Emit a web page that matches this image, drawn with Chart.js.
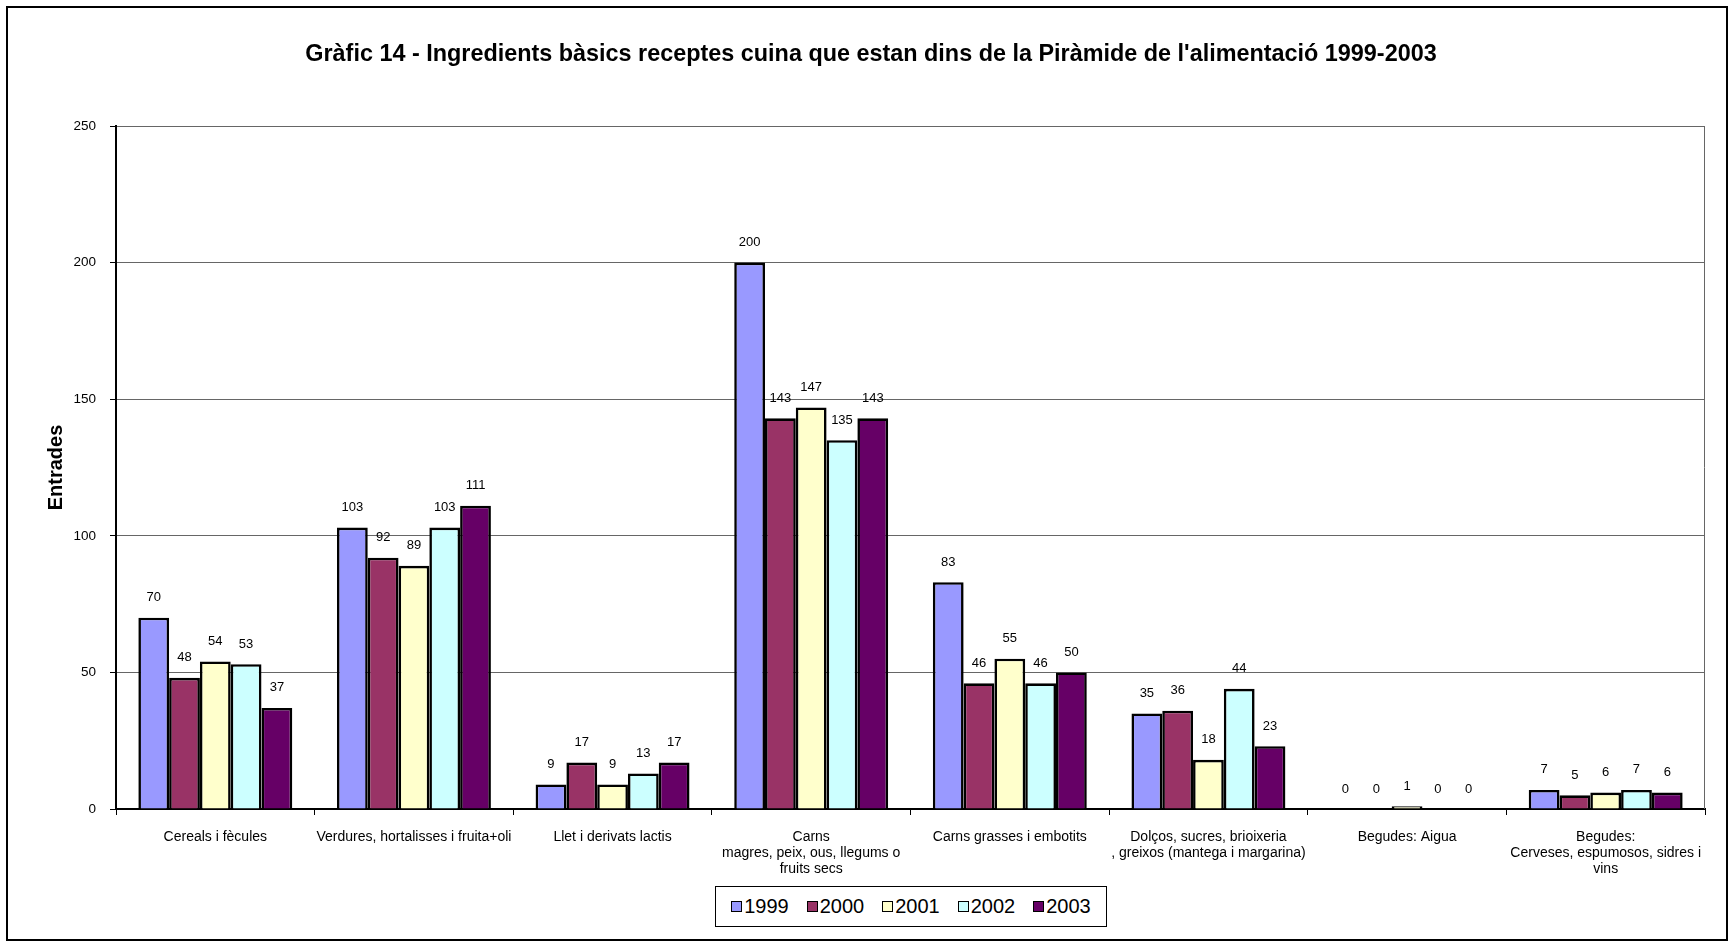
<!DOCTYPE html>
<html>
<head>
<meta charset="UTF-8">
<title>Gràfic 14</title>
<script src="https://cdn.jsdelivr.net/npm/chart.js"></script>
<style>
body{margin:0; background:#fff; font-family:"Liberation Sans", Arial, sans-serif;}
#wrap{position:absolute; left:6px; top:6px; width:1718px; height:931px; border:2px solid #000;}
#title{position:absolute; left:4px; top:31px; width:1718px; text-align:center; font-weight:bold; font-size:23.4px; line-height:28px;}
#legend{position:absolute; left:707px; top:878px; width:390px; height:39px; border:1px solid #000;
  display:flex; justify-content:center; align-items:center; gap:18px; font-size:20px; background:#fff;}
#legend span.it{display:flex; align-items:center;}
#legend span.sq{display:inline-block; width:9px; height:9px; border:1px solid #000; margin-right:2px;}
</style>
</head>
<body>
<div id="wrap">
  <canvas id="myChart"></canvas>
  <div id="title">Gràfic 14 - Ingredients bàsics receptes cuina que estan dins de la Piràmide de l'alimentació 1999-2003</div>
  <div id="legend"></div>
</div>
<script>
// dades del gràfic
var categories = [
  'Cereals i fècules',
  'Verdures, hortalisses i fruita+oli',
  'Llet i derivats lactis',
  ['Carns', 'magres, peix, ous, llegums o', 'fruits secs'],
  'Carns grasses i embotits',
  ['Dolços, sucres, brioixeria', ', greixos (mantega i margarina)'],
  'Begudes: Aigua',
  ['Begudes:', 'Cerveses, espumosos, sidres i', 'vins']
];
var years = ['1999', '2000', '2001', '2002', '2003'];
var v1999 = [70, 103, 9, 200, 83, 35, 0, 7];
var v2000 = [48, 92, 17, 143, 46, 36, 0, 5];
var v2001 = [54, 89, 9, 147, 55, 18, 1, 6];
var v2002 = [53, 103, 13, 135, 46, 44, 0, 7];
var v2003 = [37, 111, 17, 143, 50, 23, 0, 6];
var colors = ['#9999FF', '#993366', '#FFFFCC', '#CCFFFF', '#660066'];
var yTicks = [0, 50, 100, 150, 200, 250];

var series = [v1999, v2000, v2001, v2002, v2003];
var datasets = [];
for (let i = 0; i < series.length; i++) {
  datasets.push({
    label: years[i],
    data: series[i],
    backgroundColor: colors[i],
    borderColor: '#000',
    borderWidth: 2.6,
    categoryPercentage: 0.775,
    barPercentage: 1.0
  });
}

// llegenda en html
var lg = document.getElementById('legend');
for (let i = 0; i < years.length; i++) {
  lg.innerHTML += '<span class="it"><span class="sq" style="background:' + colors[i] + '"></span>' + years[i] + '</span>';
}

// valors damunt les barres + vora gris de l'àrea
var valueLabels = {
  id: 'valueLabels',
  beforeDatasetsDraw: function(chart) {
    var ctx = chart.ctx, a = chart.chartArea;
    ctx.save();
    ctx.strokeStyle = '#666';
    ctx.lineWidth = 1;
    ctx.beginPath();
    ctx.moveTo(a.right - 0.5, a.top);
    ctx.lineTo(a.right - 0.5, a.bottom);
    ctx.stroke();
    ctx.restore();
  },
  afterDatasetsDraw: function(chart) {
    var ctx = chart.ctx;
    ctx.save();
    ctx.font = '13px "Liberation Sans", Arial, sans-serif';
    ctx.fillStyle = '#000';
    ctx.textAlign = 'center';
    ctx.textBaseline = 'middle';
    chart.data.datasets.forEach(function(ds, i) {
      chart.getDatasetMeta(i).data.forEach(function(bar, j) {
        ctx.fillText(ds.data[j], bar.x, bar.y - 20);
      });
    });
    ctx.restore();
  }
};

new Chart(document.getElementById('myChart'), {
  type: 'bar',
  data: { labels: categories, datasets: datasets },
  plugins: [valueLabels],
  options: {
    responsive: true,
    maintainAspectRatio: false,
    animation: false,
    layout: { padding: { left: 0, right: 21, top: 118, bottom: 50 } },
    plugins: {
      legend: { display: false },
      tooltip: { enabled: false },
      title: { display: false }
    },
    scales: {
      x: {
        grid: { display: true, drawOnChartArea: false, drawTicks: true, tickLength: 6, color: '#000', offset: true },
        border: { display: true, color: '#000', width: 2 },
        ticks: {
          color: '#000', padding: 14, maxRotation: 0, autoSkip: false,
          font: { family: '"Liberation Sans", Arial, sans-serif', size: 14, lineHeight: 1.15 }
        },
        afterFit: function(scale) { scale.height = 80; }
      },
      y: {
        min: 0, max: 250,
        afterBuildTicks: function(scale) { scale.ticks = yTicks.map(function(v) { return { value: v }; }); },
        grid: { color: '#666', tickColor: '#000', tickLength: 6, drawTicks: true },
        border: { display: true, color: '#000', width: 2 },
        ticks: { color: '#000', padding: 14, font: { family: '"Liberation Sans", Arial, sans-serif', size: 13.5 } },
        title: {
          display: true, text: 'Entrades', color: '#000',
          font: { family: '"Liberation Sans", Arial, sans-serif', size: 20, weight: 'bold' },
          padding: { top: 36, bottom: 0 }
        },
        afterFit: function(scale) { scale.width = 108; }
      }
    }
  }
});
</script>
</body>
</html>
